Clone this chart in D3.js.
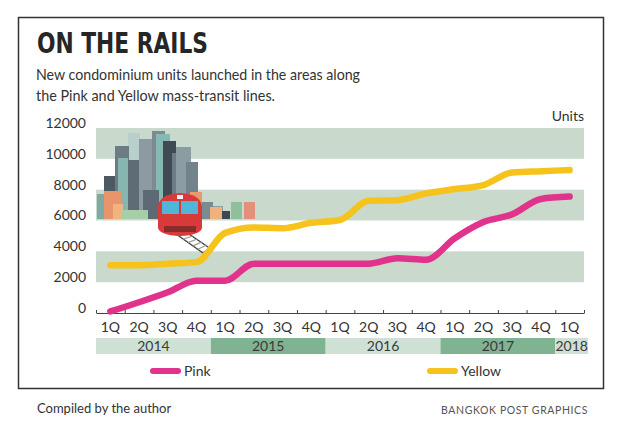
<!DOCTYPE html>
<html lang="en">
<head>
<meta charset="utf-8">
<title>On the rails</title>
<script src="https://cdn.jsdelivr.net/npm/d3@7/dist/d3.min.js"></script>
<style>
  body { margin: 0; background: #fff; }
  text { font-family: Lato, "Open Sans", sans-serif; fill: #333; }
  .title { font-family: "Liberation Sans Narrow", "DejaVu Sans Condensed", sans-serif; font-weight: bold; font-size: 29px; fill: #262626; }
  .sub { font-size: 15px; }
  .tick_label { font-size: 14px; }
  .year_label { font-size: 14px; fill: #3a3a3a; }
  .foot { font-size: 13px; }
  .credit { font-size: 10.5px; letter-spacing: 0.6px; fill: #555; }
</style>
</head>
<body>
<div id="chart"></div>
<script>
// chart data
var quarters = ["1Q","2Q","3Q","4Q","1Q","2Q","3Q","4Q","1Q","2Q","3Q","4Q","1Q","2Q","3Q","4Q","1Q"];
var years = ["2014","2015","2016","2017","2018"];
var yearSpans = [4, 4, 4, 4, 1];
var pink = [100, 700, 1350, 2100, 2100, 3200, 3200, 3200, 3200, 3200, 3550, 3450, 4850, 5900, 6400, 7400, 7550];
var yellow = [3100, 3100, 3200, 3300, 5200, 5550, 5500, 5850, 6030, 7280, 7320, 7760, 8040, 8300, 9120, 9200, 9270];
var yTicks = [0, 2000, 4000, 6000, 8000, 10000, 12000];
var bands = [[2000, 4000], [6000, 8000], [10000, 12000]];
var seriesNames = ["Pink", "Yellow"];

var W = 620, H = 438;
var pinkColor = "#e2338c", yellowColor = "#f6c31c";

var svg = d3.select("#chart").append("svg")
  .attr("width", W).attr("height", H);

var x = d3.scaleBand().domain(d3.range(quarters.length)).range([96, 584]).padding(0);
var xEdge = d3.scaleLinear().domain([0, quarters.length]).range([96, 584]);
var y = d3.scaleLinear().domain([0, 12000]).range([313, 128]);

// frame
svg.append("rect")
  .attr("x", 18.5).attr("y", 17.5)
  .attr("width", 585).attr("height", 371)
  .attr("fill", "none").attr("stroke", "#333").attr("stroke-width", 1.5);

// title and subtitle
svg.append("text").attr("class", "title")
  .attr("x", 37).attr("y", 53)
  .attr("textLength", 171).attr("lengthAdjust", "spacingAndGlyphs")
  .text("ON THE RAILS");
svg.append("text").attr("class", "sub")
  .attr("x", 36).attr("y", 80)
  .attr("textLength", 324).attr("lengthAdjust", "spacingAndGlyphs")
  .text("New condominium units launched in the areas along");
svg.append("text").attr("class", "sub")
  .attr("x", 36).attr("y", 101)
  .attr("textLength", 239).attr("lengthAdjust", "spacingAndGlyphs")
  .text("the Pink and Yellow mass-transit lines.");

svg.append("text").attr("class", "tick_label")
  .attr("x", 584).attr("y", 121).attr("text-anchor", "end")
  .text("Units");

// horizontal bands
svg.append("g").selectAll("rect").data(bands).enter().append("rect")
  .attr("x", 96).attr("width", 488)
  .attr("y", function(d) { return y(d[1]); })
  .attr("height", function(d) { return y(d[0]) - y(d[1]); })
  .attr("fill", "#c9dacd");

// y axis labels
var yAxis = svg.append("g")
  .attr("transform", "translate(86,-5)")
  .call(d3.axisLeft(y).tickValues(yTicks).tickSize(0).tickPadding(0).tickFormat(d3.format("d")));
yAxis.select(".domain").remove();
yAxis.selectAll("text").attr("class", "tick_label").attr("font-size", null).attr("font-family", null);

// skyline illustration (decoration)
var city = svg.append("g");
var blocks = [
  [97, 8, 194, "#7fa9a3"], [104, 11, 176, "#4c5862"], [128, 12, 133, "#b9cfcb"],
  [115, 14, 146, "#6d7b84"], [118, 10, 158, "#86b6af"], [128, 12, 160, "#5e6c75"],
  [139, 15, 139, "#8d9aa1"], [152, 13, 131, "#7d8a92"], [156, 14, 134, "#86b9b2"],
  [163, 13, 141, "#3f4a53"], [172, 13, 153, "#6c7c86"], [176, 15, 147, "#8c9ca3"],
  [186, 12, 162, "#74828b"], [143, 16, 190, "#5d6a73"], [200, 13, 202, "#7b8b94"],
  [213, 10, 206, "#8e9fa5"], [104, 17, 191, "#e8956b"], [113, 10, 204, "#f0b57e"],
  [190, 12, 192, "#e79a6e"], [210, 12, 207, "#f0b27a"], [222, 8, 211, "#3d4850"],
  [231, 11, 202, "#8fc09b"], [244, 11, 202, "#e3907a"], [122, 26, 210, "#a6cfa9"]
];
blocks.forEach(function(b) {
  city.append("rect").attr("x", b[0]).attr("y", b[2])
    .attr("width", b[1]).attr("height", 219 - b[2]).attr("fill", b[3]);
});
// tracks
city.append("path").attr("d", "M176,234 L203,253 M186,232 L211,249")
  .attr("stroke", "#444").attr("stroke-width", 1.5).attr("fill", "none");
d3.range(6).forEach(function(i) {
  city.append("line")
    .attr("x1", 178 + i * 5).attr("y1", 236 + i * 3.3)
    .attr("x2", 188 + i * 4.6).attr("y2", 233 + i * 3)
    .attr("stroke", "#999").attr("stroke-width", 1.2);
});
// train
city.append("path")
  .attr("d", "M158,206 Q160,194 180,193 Q200,194 202,206 L202,228 Q200,235 180,236 Q160,235 158,228 Z")
  .attr("fill", "#d83a3a");
city.append("rect").attr("x", 162).attr("y", 201).attr("width", 17).attr("height", 13).attr("fill", "#4fb6d8");
city.append("rect").attr("x", 181).attr("y", 201).attr("width", 17).attr("height", 13).attr("fill", "#4fb6d8");
city.append("rect").attr("x", 164).attr("y", 226).attr("width", 32).attr("height", 6).attr("fill", "#8a2a2a");
city.append("rect").attr("x", 177).attr("y", 195).attr("width", 6).attr("height", 4).attr("fill", "#f3f3f3");

// x axis with ticks at quarter boundaries
var xAxis = svg.append("g")
  .attr("transform", "translate(0," + 313 + ")")
  .call(d3.axisBottom(xEdge).tickValues(d3.range(quarters.length + 1)).tickSize(-3).tickSizeOuter(0).tickFormat(""));
xAxis.select(".domain").attr("stroke", "#444");
xAxis.selectAll(".tick line").attr("stroke", "#444");

svg.append("g").selectAll("text").data(quarters).enter().append("text")
  .attr("class", "tick_label")
  .attr("x", function(d, i) { return x(i) + x.bandwidth() / 2; })
  .attr("y", 332).attr("text-anchor", "middle")
  .text(function(d) { return d; });

// year strip
var start = 0;
var yearCells = years.map(function(yr, i) {
  var cell = { year: yr, from: start, to: start + yearSpans[i], dark: i % 2 == 1 };
  start += yearSpans[i];
  return cell;
});
var yearG = svg.append("g").selectAll("g").data(yearCells).enter().append("g");
yearG.append("rect")
  .attr("x", function(d) { return xEdge(d.from); })
  .attr("width", function(d, i) { return xEdge(d.to) - xEdge(d.from) + (i == yearCells.length - 1 ? 4 : 0); })
  .attr("y", 338).attr("height", 16)
  .attr("fill", function(d) { return d.dark ? "#80b391" : "#cfe1d4"; });
yearG.append("text").attr("class", "year_label")
  .attr("x", function(d, i) { return (xEdge(d.from) + xEdge(d.to)) / 2 + (i == yearCells.length - 1 ? 2 : 0); })
  .attr("y", 351).attr("text-anchor", "middle")
  .text(function(d) { return d.year; });

// lines
var line = d3.line()
  .x(function(d, i) { return x(i) + x.bandwidth() / 2; })
  .y(function(d) { return y(d); })
  .curve(d3.curveMonotoneX);

[[yellow, yellowColor], [pink, pinkColor]].forEach(function(s) {
  svg.append("path").datum(s[0])
    .attr("d", line)
    .attr("fill", "none").attr("stroke", s[1])
    .attr("stroke-width", 6.5).attr("stroke-linecap", "round").attr("stroke-linejoin", "round");
});

// legend
var legendX = [153, 430];
var legendColors = [pinkColor, yellowColor];
var lg = svg.append("g").selectAll("g").data(seriesNames).enter().append("g");
lg.append("line")
  .attr("x1", function(d, i) { return legendX[i]; })
  .attr("x2", function(d, i) { return legendX[i] + 25; })
  .attr("y1", 371).attr("y2", 371)
  .attr("stroke", function(d, i) { return legendColors[i]; })
  .attr("stroke-width", 6).attr("stroke-linecap", "round");
lg.append("text").attr("class", "tick_label")
  .attr("x", function(d, i) { return legendX[i] + 31; })
  .attr("y", 376)
  .text(function(d) { return d; });

// footer
svg.append("text").attr("class", "foot")
  .attr("x", 37).attr("y", 413)
  .text("Compiled by the author");
svg.append("text").attr("class", "credit")
  .attr("x", 588).attr("y", 414).attr("text-anchor", "end")
  .text("BANGKOK POST GRAPHICS");
</script>
</body>
</html>
